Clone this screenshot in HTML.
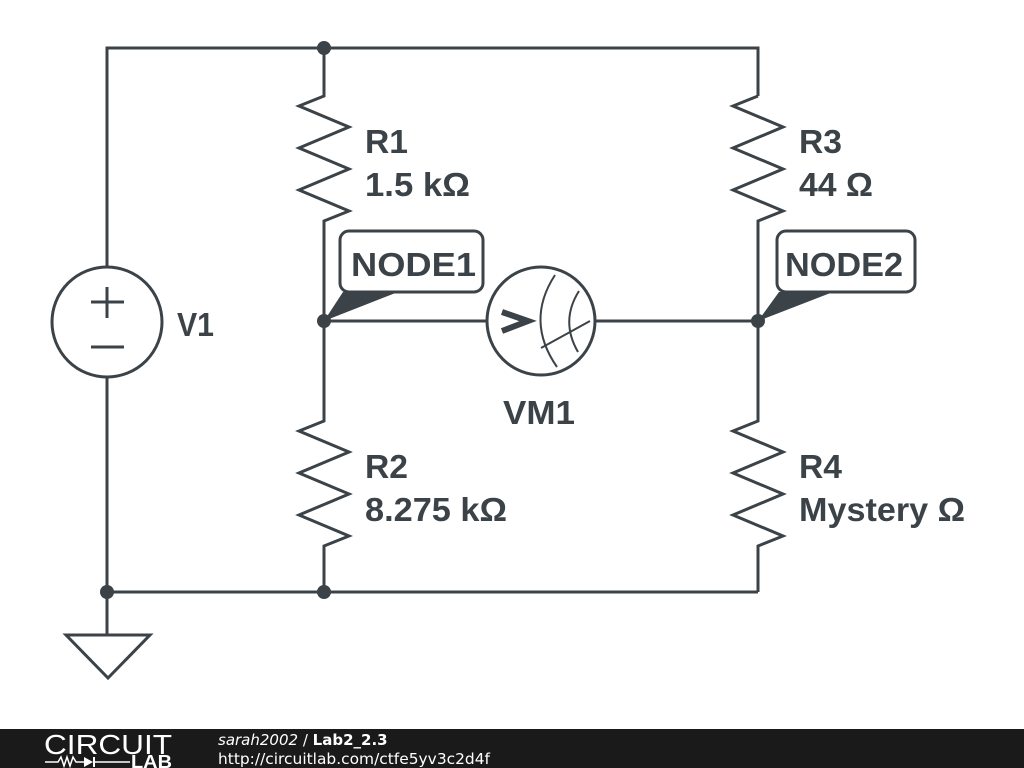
<!DOCTYPE html>
<html><head><meta charset="utf-8"><style>
html,body{margin:0;padding:0;background:#fff;width:1024px;height:768px;overflow:hidden}
text{font-family:"Liberation Sans",sans-serif;font-weight:bold;fill:#3b4348}
</style></head><body>
<svg width="1024" height="768" viewBox="0 0 1024 768" xmlns="http://www.w3.org/2000/svg">
<g stroke="#3b4348" stroke-width="3" fill="none" stroke-linejoin="miter">
<polyline points="107,267 107,48 758,48 758,96"/>
<line x1="107" y1="377" x2="107" y2="635"/>
<line x1="107" y1="592" x2="758" y2="592"/>
<polygon points="66,635 150,635 108,678"/>
<circle cx="107" cy="322" r="55"/>
<line x1="91" y1="302" x2="124" y2="302"/><line x1="107" y1="287" x2="107" y2="318"/>
<line x1="91" y1="347" x2="124" y2="347"/>
<polyline points="324,48 324,96 299,106 349,127 299,148 349,169 299,190 349,211 324,221 324,421 299,431 349,452 299,473 349,494 299,515 349,536 324,546 324,592"/>
<polyline points="758,96 733,106 783,127 733,148 783,169 733,190 783,211 758,221 758,421 733,431 783,452 733,473 783,494 733,515 783,536 758,546 758,592"/>
<line x1="324" y1="321" x2="487" y2="321"/>
<line x1="595" y1="321" x2="758" y2="321"/>
<circle cx="541" cy="321" r="54"/>
<polyline points="502,312 528,321 502,331" stroke-width="6"/>
<path d="M555,275 Q525,321 557,367" stroke-width="2"/>
<path d="M579,291 Q560,321 578,352" stroke-width="2"/>
<line x1="541" y1="348" x2="590" y2="321" stroke-width="2"/>
<rect x="340" y="231" width="143" height="61" rx="9"/>
<rect x="777" y="231" width="138" height="61" rx="9"/>
</g>
<g fill="#3b4348">
<polygon points="324,321 343,292 398,292"/>
<polygon points="758,321 779,292 833,292"/>
<circle cx="324" cy="48" r="7"/><circle cx="324" cy="321" r="7"/><circle cx="758" cy="321" r="7"/>
<circle cx="107" cy="592" r="7"/><circle cx="324" cy="592" r="7"/>
</g>
<g font-size="33">
<text x="365" y="153" textLength="43" lengthAdjust="spacingAndGlyphs">R1</text><text x="365" y="196" textLength="105" lengthAdjust="spacingAndGlyphs">1.5 kΩ</text>
<text x="799" y="153" textLength="43" lengthAdjust="spacingAndGlyphs">R3</text><text x="799" y="196" textLength="74" lengthAdjust="spacingAndGlyphs">44 Ω</text>
<text x="365" y="478" textLength="43" lengthAdjust="spacingAndGlyphs">R2</text><text x="365" y="521" textLength="142" lengthAdjust="spacingAndGlyphs">8.275 kΩ</text>
<text x="799" y="478" textLength="43" lengthAdjust="spacingAndGlyphs">R4</text><text x="799" y="521" textLength="166" lengthAdjust="spacingAndGlyphs">Mystery Ω</text>
<text x="177" y="336" textLength="37" lengthAdjust="spacingAndGlyphs">V1</text>
<text x="503" y="424" textLength="72" lengthAdjust="spacingAndGlyphs">VM1</text>
<text x="351" y="276" textLength="125" lengthAdjust="spacingAndGlyphs">NODE1</text>
<text x="785" y="276" textLength="118" lengthAdjust="spacingAndGlyphs">NODE2</text>
</g>
<rect x="0" y="729" width="1024" height="39" fill="#1a1a1a"/>
<text x="44" y="754" style="font-weight:normal;fill:#fff" font-size="28" textLength="128" lengthAdjust="spacingAndGlyphs">CIRCUIT</text>
<polyline points="45,762 58,762 61,757 64,766 67,757 70,766 73,757 76,762 84,762" stroke="#fff" stroke-width="1.5" fill="none"/>
<polygon points="84,757 93,762 84,767" fill="#fff"/><line x1="94" y1="757" x2="94" y2="767" stroke="#fff" stroke-width="2"/>
<line x1="94" y1="762" x2="130" y2="762" stroke="#fff" stroke-width="1.5"/>
<text x="131" y="768" style="fill:#fff" font-size="18" textLength="41" lengthAdjust="spacingAndGlyphs">LAB</text>
<text x="218" y="745" style="font-weight:normal;font-style:italic;fill:#fff;font-family:'DejaVu Sans',sans-serif" font-size="15">sarah2002 <tspan font-style="normal">/</tspan> <tspan font-weight="bold" font-style="normal">Lab2_2.3</tspan></text>
<text x="218" y="764" style="font-weight:normal;fill:#fff;font-family:'DejaVu Sans',sans-serif" font-size="15" textLength="272" lengthAdjust="spacingAndGlyphs">http://circuitlab.com/ctfe5yv3c2d4f</text>
</svg>
</body></html>
